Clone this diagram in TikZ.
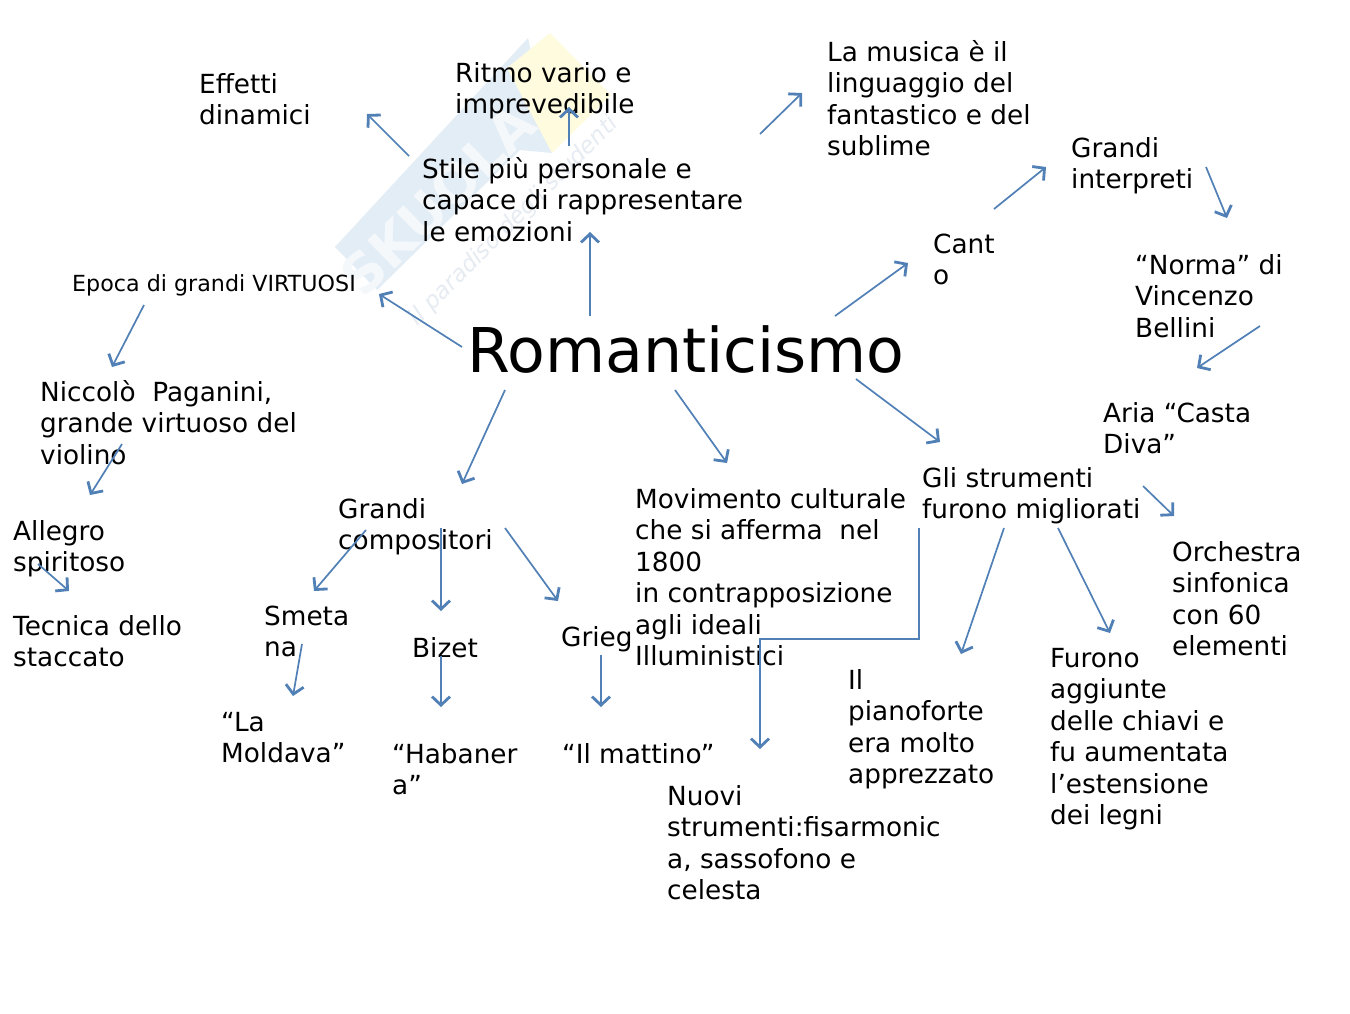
\documentclass[tikz,border=0pt]{standalone}
\usepackage{fontspec}
\setmainfont{DejaVu Sans}
\usetikzlibrary{arrows.meta}
\definecolor{arrowblue}{HTML}{5080B5}
\definecolor{wmblue}{HTML}{E3EDF6}
\definecolor{wmyellow}{HTML}{FEFBDF}
\definecolor{wmtext}{HTML}{E6ECF2}
\definecolor{wmletter}{HTML}{F5F8FB}
\tikzset{
  txt/.style={anchor=north west,inner sep=0pt,align=left,text=black,font=\fontsize{26.3}{31.5}\selectfont},
  small/.style={txt,font=\fontsize{22.2}{26}\selectfont},
  big/.style={txt,font=\fontsize{61.7}{70}\selectfont},
  link/.style={draw=arrowblue,line width=1.7pt,-{Straight Barb[length=8.5pt,width=18pt,line width=2.8pt]}},
}
\newcommand{\lbl}[5][txt]{\node[#1] (#2) at (#3,#4-24) {\rule{0pt}{24pt}#5};}
\newcommand{\conn}[3]{\coordinate (#1a) at (#2); \coordinate (#1b) at (#3);
  \draw[link] (#1a) -- (#1b);}
\begin{document}
\begin{tikzpicture}[x=1pt,y=-1pt]
\useasboundingbox (0,0) rectangle (1350,1013);
\fill[white] (0,0) rectangle (1350,1013);
% watermark
\fill[wmblue] (335,247) -- (528,38) -- (552,153) -- (520,150) -- (377,290) -- cycle;
\fill[wmyellow] (550,33) -- (611,95) -- (552,153) -- (507,68) -- cycle;
\node[rotate=44,text=wmletter,font=\bfseries\fontsize{54}{56}\selectfont,inner sep=0pt] (wm) at (438,200) {SKUOLA};
\node[rotate=45,text=wmtext,font=\itshape\fontsize{23}{26}\selectfont,inner sep=0pt] (wmb) at (514,221) {il paradiso degli studenti};
% labels
\lbl{eff}{199}{93}{Effetti\\dinamici}
\lbl{rit}{455}{82}{Ritmo vario e\\imprevedibile}
\lbl{mus}{827}{61}{La musica è il\\linguaggio del\\fantastico e del\\sublime}
\lbl{sti}{422}{178}{Stile più personale e\\capace di rappresentare\\le emozioni}
\lbl{gri}{1071}{157}{Grandi\\interpreti}
\lbl{can}{933}{253}{Cant\\o}
\lbl{nor}{1135}{274}{“Norma” di\\Vincenzo\\Bellini}
\lbl{ari}{1103}{422}{Aria “Casta\\Diva”}
\lbl[small]{epo}{72}{291}{Epoca di grandi VIRTUOSI}
\lbl{nic}{40}{401}{Niccolò\ \ Paganini,\\grande virtuoso del\\violino}
\lbl{all}{13}{540}{Allegro\\spiritoso}
\lbl{tec}{13}{635}{Tecnica dello\\staccato}
\lbl{com}{338}{518}{Grandi\\compositori}
\lbl{sme}{264}{625}{Smeta\\na}
\lbl{biz}{412}{657}{Bizet}
\lbl{gre}{561}{646}{Grieg}
\lbl{mol}{221}{731}{“La\\Moldava”}
\lbl{hab}{392}{763}{“Habaner\\a”}
\lbl{mat}{562}{763}{“Il mattino”}
\lbl{mov}{635}{508}{Movimento culturale\\che si afferma\ \ nel\\1800\\in contrapposizione\\agli ideali\\Illuministici}
\lbl{str}{922}{487}{Gli strumenti\\furono migliorati}
\lbl{orc}{1172}{561}{Orchestra\\sinfonica\\con 60\\elementi}
\lbl{fur}{1050}{667}{Furono\\aggiunte\\delle chiavi e\\fu aumentata\\l’estensione\\dei legni}
\lbl{pia}{848}{689}{Il\\pianoforte\\era molto\\apprezzato}
\lbl{nuo}{667}{805}{Nuovi\\strumenti:fisarmonic\\a, sassofono e\\celesta}
\node[big] (rom) at (467,372-56) {\rule{0pt}{56pt}Romanticismo};
% connectors
\conn{a}{590,316}{590,232}
\conn{b}{462,347}{379,294}
\conn{c}{505,390}{462,484}
\conn{d}{675,390}{727,463}
\conn{e}{856,379}{940,442}
\conn{f}{835,316}{908,263}
\conn{g}{994,209}{1046,167}
\conn{h}{1206,167}{1227,218}
\conn{i}{1260,326}{1197,368}
\conn{j}{1143,486}{1174,516}
\conn{k}{409,156}{367,114}
\conn{l}{569,146}{569,107}
\conn{m}{760,134}{802,93}
\conn{n}{144,305}{112,367}
\conn{o}{122,444}{90,495}
\conn{p}{38,564}{69,591}
\conn{q}{366,530}{314,591}
\conn{r}{441,528}{441,611}
\conn{s}{505,528}{558,601}
\conn{t}{302,644}{293,696}
\conn{u}{441,656}{441,707}
\conn{v}{601,655}{601,707}
\conn{w}{1004,528}{961,654}
\conn{x}{1058,528}{1110,633}
\coordinate (ya) at (919,528); \coordinate (yb) at (760,749);
\draw[link] (ya) -- (919,639) -- (760,639) -- (yb);
\end{tikzpicture}
\end{document}
